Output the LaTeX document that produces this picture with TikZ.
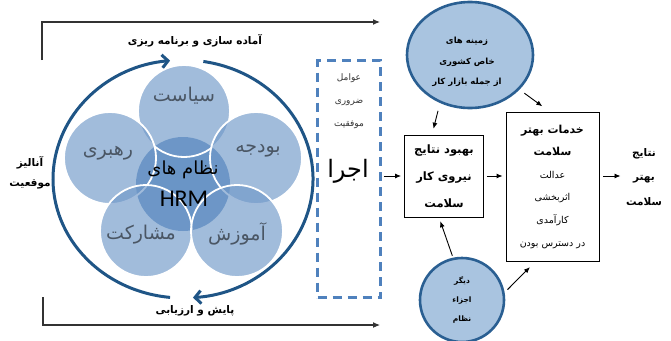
\documentclass[tikz,border=0pt]{standalone}
\usepackage{fontspec}
\usetikzlibrary{shapes.geometric,arrows.meta}
\TeXXeTstate=1
\newfontfamily\arabicfont[Script=Arabic]{DejaVu Sans}
\newfontfamily\hrmfont{Carlito}
\newcommand{\fa}[1]{{\arabicfont\beginR #1\endR}}
\definecolor{ringblue}{HTML}{1F5586}
\definecolor{dashblue}{HTML}{4F81BD}
\definecolor{petalblue}{HTML}{6F98C8}
\definecolor{corefill}{HTML}{6A95C6}
\definecolor{ctxfill}{HTML}{A9C4E0}
\definecolor{ctxline}{HTML}{2A5F92}
\definecolor{petalgray}{HTML}{4A5664}
\definecolor{lineblack}{HTML}{333333}
\begin{document}
\begin{tikzpicture}[x=1pt,y=-1pt,
    ring/.style={draw=ringblue, line width=3pt, -{Straight Barb[length=6pt,width=13pt]}},
    bracket/.style={draw=lineblack, line width=1.1pt, -{Latex[length=7pt,width=6pt]}},
    flow/.style={draw=black, line width=0.9pt, -{Latex[length=6pt,width=5pt]}},
    petal/.style={circle, minimum size=92pt, inner sep=0pt, fill=petalblue, fill opacity=0.65, draw=white, line width=1.8pt},
    petaltxt/.style={text=petalgray, font=\fontsize{19}{22}\selectfont},
    lbl/.style={font=\bfseries\fontsize{10.5}{20}\selectfont, align=center},
    box/.style={draw=black, line width=0.9pt, fill=white, inner sep=0pt, align=center}]

    \useasboundingbox (0,0) rectangle (671,340);

    % Planning and evaluation brackets
    \coordinate (planL) at (42,60);
    \coordinate (planC) at (42,22);
    \coordinate (planR) at (380,22);
    \draw[bracket] (planL) -- (planC) -- (planR);
    \coordinate (evalL) at (43,297);
    \coordinate (evalC) at (43,325);
    \coordinate (evalR) at (380,325);
    \draw[bracket] (evalL) -- (evalC) -- (evalR);

    \node[lbl] (plan) at (195,41) {\fa{آماده سازی و برنامه ریزی}};
    \node[lbl] (eval) at (195,311) {\fa{پایش و ارزیابی}};
    \node[lbl] (anal) at (30,173) {\fa{آنالیز}\\\fa{موقعیت}};

    % The core circle and the five petals
    \node[circle, minimum size=94pt, inner sep=0pt, fill=corefill] (core) at (183,184) {};
    \node[petal] (pol) at (184,111) {};
    \node[petal] (lead) at (110,158) {};
    \node[petal] (bud) at (256,158) {};
    \node[petal] (part) at (146,231) {};
    \node[petal] (edu) at (237,231) {};

    % Petal labels
    \node[petaltxt] (polt) at (184,96) {\fa{سیاست}};
    \node[petaltxt] (leadt) at (108,153) {\fa{رهبری}};
    \node[petaltxt] (budt) at (258,151) {\fa{بودجه}};
    \node[petaltxt] (partt) at (141,235) {\fa{مشارکت}};
    \node[petaltxt] (edut) at (237,234) {\fa{آموزش}};
    \node[font=\fontsize{18}{20}\selectfont] (coret) at (183,170) {\fa{نظام های}};
    \node[font=\hrmfont\fontsize{24}{26}\selectfont] (hrm) at (184,199) {HRM};

    % The cycle round the petals
    \coordinate (hub) at (183,179);
    \draw[ring] (hub) ++(81:130pt and 119pt) arc[start angle=81, end angle=-85.6, x radius=130pt, y radius=119pt];
    \draw[ring] (hub) ++(-95.7:130pt and 119pt) arc[start angle=-95.7, end angle=-264.3, x radius=130pt, y radius=119pt];

    % Success factors
    \node[draw=dashblue, dash pattern=on 9pt off 6pt, line width=2.6pt, minimum width=63pt, minimum height=237pt, inner sep=0pt] (exec) at (349,179) {};
    \node[font=\fontsize{9}{23}\selectfont, align=center, text=black!80] (keys) at (349,101) {\fa{عوامل}\\\fa{ضروری}\\\fa{موفقیت}};
    \node[font=\fontsize{24}{26}\selectfont] (run) at (348,171) {\fa{اجرا}};

    % Outcome boxes
    \node[box, minimum width=79pt, minimum height=82pt, font=\bfseries\fontsize{11.5}{27}\selectfont] (imp) at (444,176) {\fa{بهبود نتایج}\\\fa{نیروی کار}\\\fa{سلامت}};
    \node[box, minimum width=93pt, minimum height=149pt, font=\fontsize{9.5}{22.6}\selectfont] (svc) at (552.5,186.5) {{\bfseries\fontsize{11}{22.6}\selectfont\fa{خدمات بهتر}}\\{\bfseries\fontsize{11}{22.6}\selectfont\fa{سلامت}}\\\fa{عدالت}\\\fa{اثربخشی}\\\fa{کارآمدی}\\\fa{در دسترس بودن}};
    \node[font=\bfseries\fontsize{10.5}{24.5}\selectfont, align=center] (res) at (644,177) {\fa{نتایج}\\\fa{بهتر}\\\fa{سلامت}};

    % Context and other parts
    \node[ellipse, draw=ctxline, line width=2.6pt, fill=ctxfill, minimum width=126pt, minimum height=106pt, inner sep=0pt] (ctx) at (470,55) {};
    \node[font=\bfseries\fontsize{8.5}{20.5}\selectfont, align=center] (ctxt) at (467,62) {\fa{زمینه های}\\\fa{خاص کشوری}\\\fa{از جمله بازار کار}};
    \node[circle, draw=ctxline, line width=2.6pt, fill=ctxfill, minimum size=84pt, inner sep=0pt, font=\bfseries\fontsize{7.5}{19}\selectfont, align=center] (oth) at (462,300) {\fa{دیگر}\\\fa{اجزاء}\\\fa{نظام}};

    % Connectors
    \draw[flow, shorten <=2pt, shorten >=3pt] (exec.east |- imp.west) -- (imp.west);
    \draw[flow, shorten <=3pt, shorten >=3pt] (imp.east) -- (imp.east -| svc.west);
    \draw[flow, shorten <=4pt, shorten >=2pt] (svc.east |- imp.east) -- (res.west |- imp.east);
    \draw[flow, shorten <=8pt, shorten >=6pt] (ctx.238) -- ([xshift=-12pt]imp.north);
    \draw[flow, shorten <=6pt, shorten >=9pt] (ctx.325) -- ([xshift=44pt]svc.north west);
    \draw[flow, shorten <=2pt, shorten >=4pt] (oth.102) -- ([xshift=-5pt]imp.south);
    \draw[flow, shorten <=4pt, shorten >=8pt] (oth.10) -- ([xshift=30pt]svc.south west);

\end{tikzpicture}
\end{document}
